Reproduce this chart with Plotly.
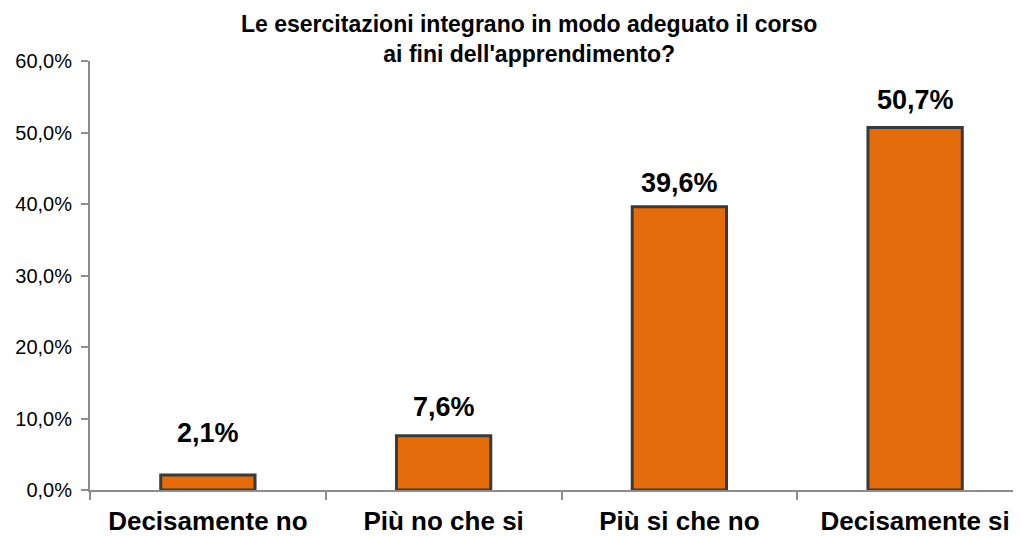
import plotly.graph_objects as go

categories = ["Decisamente no", "Più no che sì", "Più sì che no", "Decisamente sì"]
tick_text = ["Decisamente no", "Più no che si", "Più si che no", "Decisamente si"]
values = [2.1, 7.6, 39.6, 50.7]
value_labels = ["2,1%", "7,6%", "39,6%", "50,7%"]
y_ticks = [0, 10, 20, 30, 40, 50, 60]
y_tick_labels = ["0,0%", "10,0%", "20,0%", "30,0%", "40,0%", "50,0%", "60,0%"]
title_text = "Le esercitazioni integrano in modo adeguato il corso<br>ai fini dell'apprendimento?"
label_shift = [42, 29, 24, 27]

font_family = "Liberation Sans, Arial, sans-serif"

fig = go.Figure()
fig.add_trace(go.Bar(
    x=categories, y=values,
    width=0.40,
    marker=dict(color="#E46C0A", line=dict(color="#3A3A3A", width=3)),
    hoverinfo="skip",
))

for c, v, t, s in zip(categories, values, value_labels, label_shift):
    fig.add_annotation(x=c, y=v, text="<b>%s</b>" % t, showarrow=False,
                       yanchor="middle", yshift=s,
                       font=dict(family=font_family, size=27, color="#000000"))

fig.add_annotation(
    text="<b>%s</b>" % title_text,
    xref="paper", yref="paper", x=0.4675, y=1.0513, xanchor="center", yanchor="middle",
    showarrow=False, font=dict(family=font_family, size=23, color="#000000"))

fig.update_layout(
    width=1021, height=536,
    margin=dict(l=82, r=0, t=53, b=54),
    paper_bgcolor="white", plot_bgcolor="white",
    showlegend=False,
    xaxis=dict(
        range=[-0.5, 3.483], automargin=False,
        tickmode="array", tickvals=categories, ticktext=["<b>%s</b>" % t for t in tick_text],
        tickfont=dict(family=font_family, size=26, color="#000000"),
        showline=True, linecolor="#8C8C8C", linewidth=2,
        ticks="outside", tickson="boundaries", ticklen=8, tickcolor="#8C8C8C", tickwidth=2,
        ticklabelstandoff=7,
        showgrid=False, zeroline=False,
    ),
    yaxis=dict(
        range=[0, 60], automargin=False, tickmode="array", tickvals=y_ticks, ticktext=y_tick_labels,
        tickfont=dict(family=font_family, size=20, color="#000000"),
        showline=True, linecolor="#8C8C8C", linewidth=2,
        ticks="outside", ticklen=7, tickcolor="#8C8C8C", tickwidth=2,
        ticklabelstandoff=5,
        showgrid=False, zeroline=False,
    ),
)

fig.write_html("out.html")
